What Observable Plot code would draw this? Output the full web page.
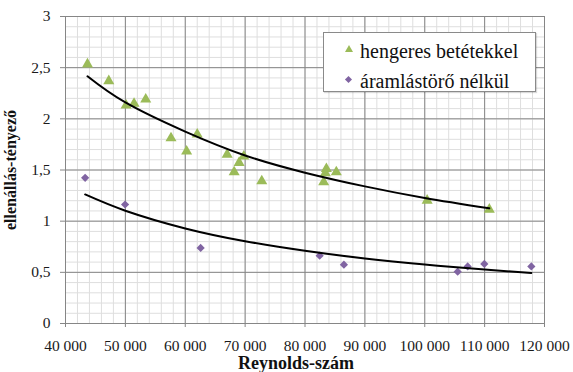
<!DOCTYPE html>
<html>
<head>
<meta charset="utf-8">
<script src="https://cdn.jsdelivr.net/npm/d3@7"></script>
<script src="https://cdn.jsdelivr.net/npm/@observablehq/plot@0.6"></script>
<style>
  body { margin: 0; background: #fff; }
  #wrap { position: relative; width: 573px; height: 372px; font-family: "Liberation Serif", "Times New Roman", Tinos, "DejaVu Serif", serif; }
  #wrap svg text { font-family: "Liberation Serif", "Times New Roman", Tinos, "DejaVu Serif", serif; }
  #legend { position: absolute; left: 323px; top: 32px; width: 211px; height: 58px;
    border: 1px solid #8a8a8a; background: #fff; box-shadow: 1px 1px 1px rgba(0,0,0,0.15); }
  .item { position: absolute; left: 0; font-size: 20px; color: #111; white-space: nowrap; line-height: 20px; }
  .tri { position: absolute; width: 0; height: 0; border-left: 4px solid transparent; border-right: 4px solid transparent; border-bottom: 7px solid #9BBB59; }
  .dia { position: absolute; width: 5px; height: 5px; background: #8064A2; transform: rotate(45deg); }
</style>
</head>
<body>
<div id="wrap"></div>
<script>
// ---- data ----
const seriesNames = ["hengeres betétekkel", "áramlástörő nélkül"];

const greenRe = [43670, 47230, 50120, 51450, 53400, 57620, 60230, 62000, 67000, 69000, 69780, 68170, 72780, 83570, 83400, 83120, 85230, 100400, 110780];
const greenK  = [2.534, 2.370, 2.132, 2.149, 2.191, 1.812, 1.682, 1.848, 1.652, 1.571, 1.633, 1.479, 1.391, 1.512, 1.470, 1.381, 1.479, 1.202, 1.114];

const purpleRe = [43280, 49950, 62570, 82450, 86500, 105500, 107170, 109950, 117800];
const purpleK  = [1.424, 1.163, 0.739, 0.663, 0.575, 0.506, 0.558, 0.582, 0.558];

// trend lines
const greenTrendRe = [43670, 50000, 60000, 70000, 80000, 90000, 100000, 110780];
const greenTrendK  = [2.416, 2.160, 1.875, 1.642, 1.474, 1.340, 1.227, 1.126];
const purpleTrendRe = [43280, 50000, 60000, 70000, 80000, 90000, 100000, 110000, 117800];
const purpleTrendK  = [1.261, 1.102, 0.929, 0.804, 0.711, 0.635, 0.576, 0.527, 0.494];

const xTicks = [40000, 50000, 60000, 70000, 80000, 90000, 100000, 110000, 120000];
const xTickLabels = ["40 000", "50 000", "60 000", "70 000", "80 000", "90 000", "100 000", "110 000", "120 000"];
const yTicks = [0, 0.5, 1, 1.5, 2, 2.5, 3];
const yTickLabels = ["0", "0,5", "1", "1,5", "2", "2,5", "3"];

const xTitle = "Reynolds-szám";
const yTitle = "ellenállás-tényező";

// ---- build tables ----
const green = greenRe.map((x, i) => ({x, y: greenK[i]}));
const purple = purpleRe.map((x, i) => ({x, y: purpleK[i]}));
const greenTrend = greenTrendRe.map((x, i) => ({x, y: greenTrendK[i]}));
const purpleTrend = purpleTrendRe.map((x, i) => ({x, y: purpleTrendK[i]}));
const xLab = new Map(xTicks.map((t, i) => [t, xTickLabels[i]]));
const yLab = new Map(yTicks.map((t, i) => [t, yTickLabels[i]]));

const GREEN = "#9BBB59", PURPLE = "#8064A2";
const MAJOR = "#868686", MINOR = "#dedede";
const FONT = "'Liberation Serif', 'Times New Roman', Tinos, 'DejaVu Serif', serif";

const chart = Plot.plot({
  width: 573, height: 372,
  marginTop: 16, marginBottom: 49, marginLeft: 65, marginRight: 29,
  style: {fontFamily: FONT, fontSize: "15.5px", color: "#1a1a1a", background: "white"},
  x: {domain: [40000, 120000]},
  y: {domain: [0, 3]},
  marks: [
    Plot.gridX({ticks: 40, stroke: MINOR, strokeOpacity: 1}),
    Plot.gridY({ticks: 30, stroke: MINOR, strokeOpacity: 1}),
    Plot.gridX({ticks: xTicks, stroke: MAJOR, strokeOpacity: 1}),
    Plot.gridY({ticks: yTicks, stroke: MAJOR, strokeOpacity: 1}),
    Plot.frame({stroke: MAJOR}),
    Plot.axisX({ticks: xTicks, tickFormat: d => xLab.get(d), tickSize: 4, tickPadding: 12, stroke: MAJOR, fill: "#1a1a1a", label: null}),
    Plot.axisY({ticks: yTicks, tickFormat: d => yLab.get(d), tickSize: 5, tickPadding: 10, stroke: MAJOR, fill: "#1a1a1a", label: null}),
    Plot.dot(green, {x: "x", y: "y", symbol: "triangle", r: 4.1, fill: GREEN}),
    Plot.dot(purple, {x: "x", y: "y", symbol: "diamond2", r: 3.7, fill: PURPLE}),
    Plot.line(greenTrend, {x: "x", y: "y", stroke: "black", strokeWidth: 2, curve: "natural"}),
    Plot.line(purpleTrend, {x: "x", y: "y", stroke: "black", strokeWidth: 2, curve: "natural"}),
    Plot.text([xTitle], {frameAnchor: "bottom", textAnchor: "middle", lineAnchor: "middle", dx: -9, dy: 40, fontWeight: "bold", fontSize: 18, fill: "#111"}),
    Plot.text([yTitle], {frameAnchor: "left", textAnchor: "middle", lineAnchor: "middle", rotate: -90, dx: -55, fontWeight: "bold", fontSize: 16, fill: "#111"})
  ]
});

const wrap = document.getElementById("wrap");
wrap.appendChild(chart);

// legend overlay
const legend = document.createElement("div");
legend.id = "legend";
const markers = ["tri", "dia"];
const tops = [8, 38];
seriesNames.forEach((name, i) => {
  const m = document.createElement("div");
  m.className = markers[i];
  if (i === 0) { m.style.left = "21px"; m.style.top = (tops[i] + 4) + "px"; }
  else { m.style.left = "22px"; m.style.top = (tops[i] + 6) + "px"; }
  legend.appendChild(m);
  const t = document.createElement("div");
  t.className = "item";
  t.style.left = "36px";
  t.style.top = tops[i] + "px";
  t.textContent = name;
  legend.appendChild(t);
});
wrap.appendChild(legend);
</script>
</body>
</html>
